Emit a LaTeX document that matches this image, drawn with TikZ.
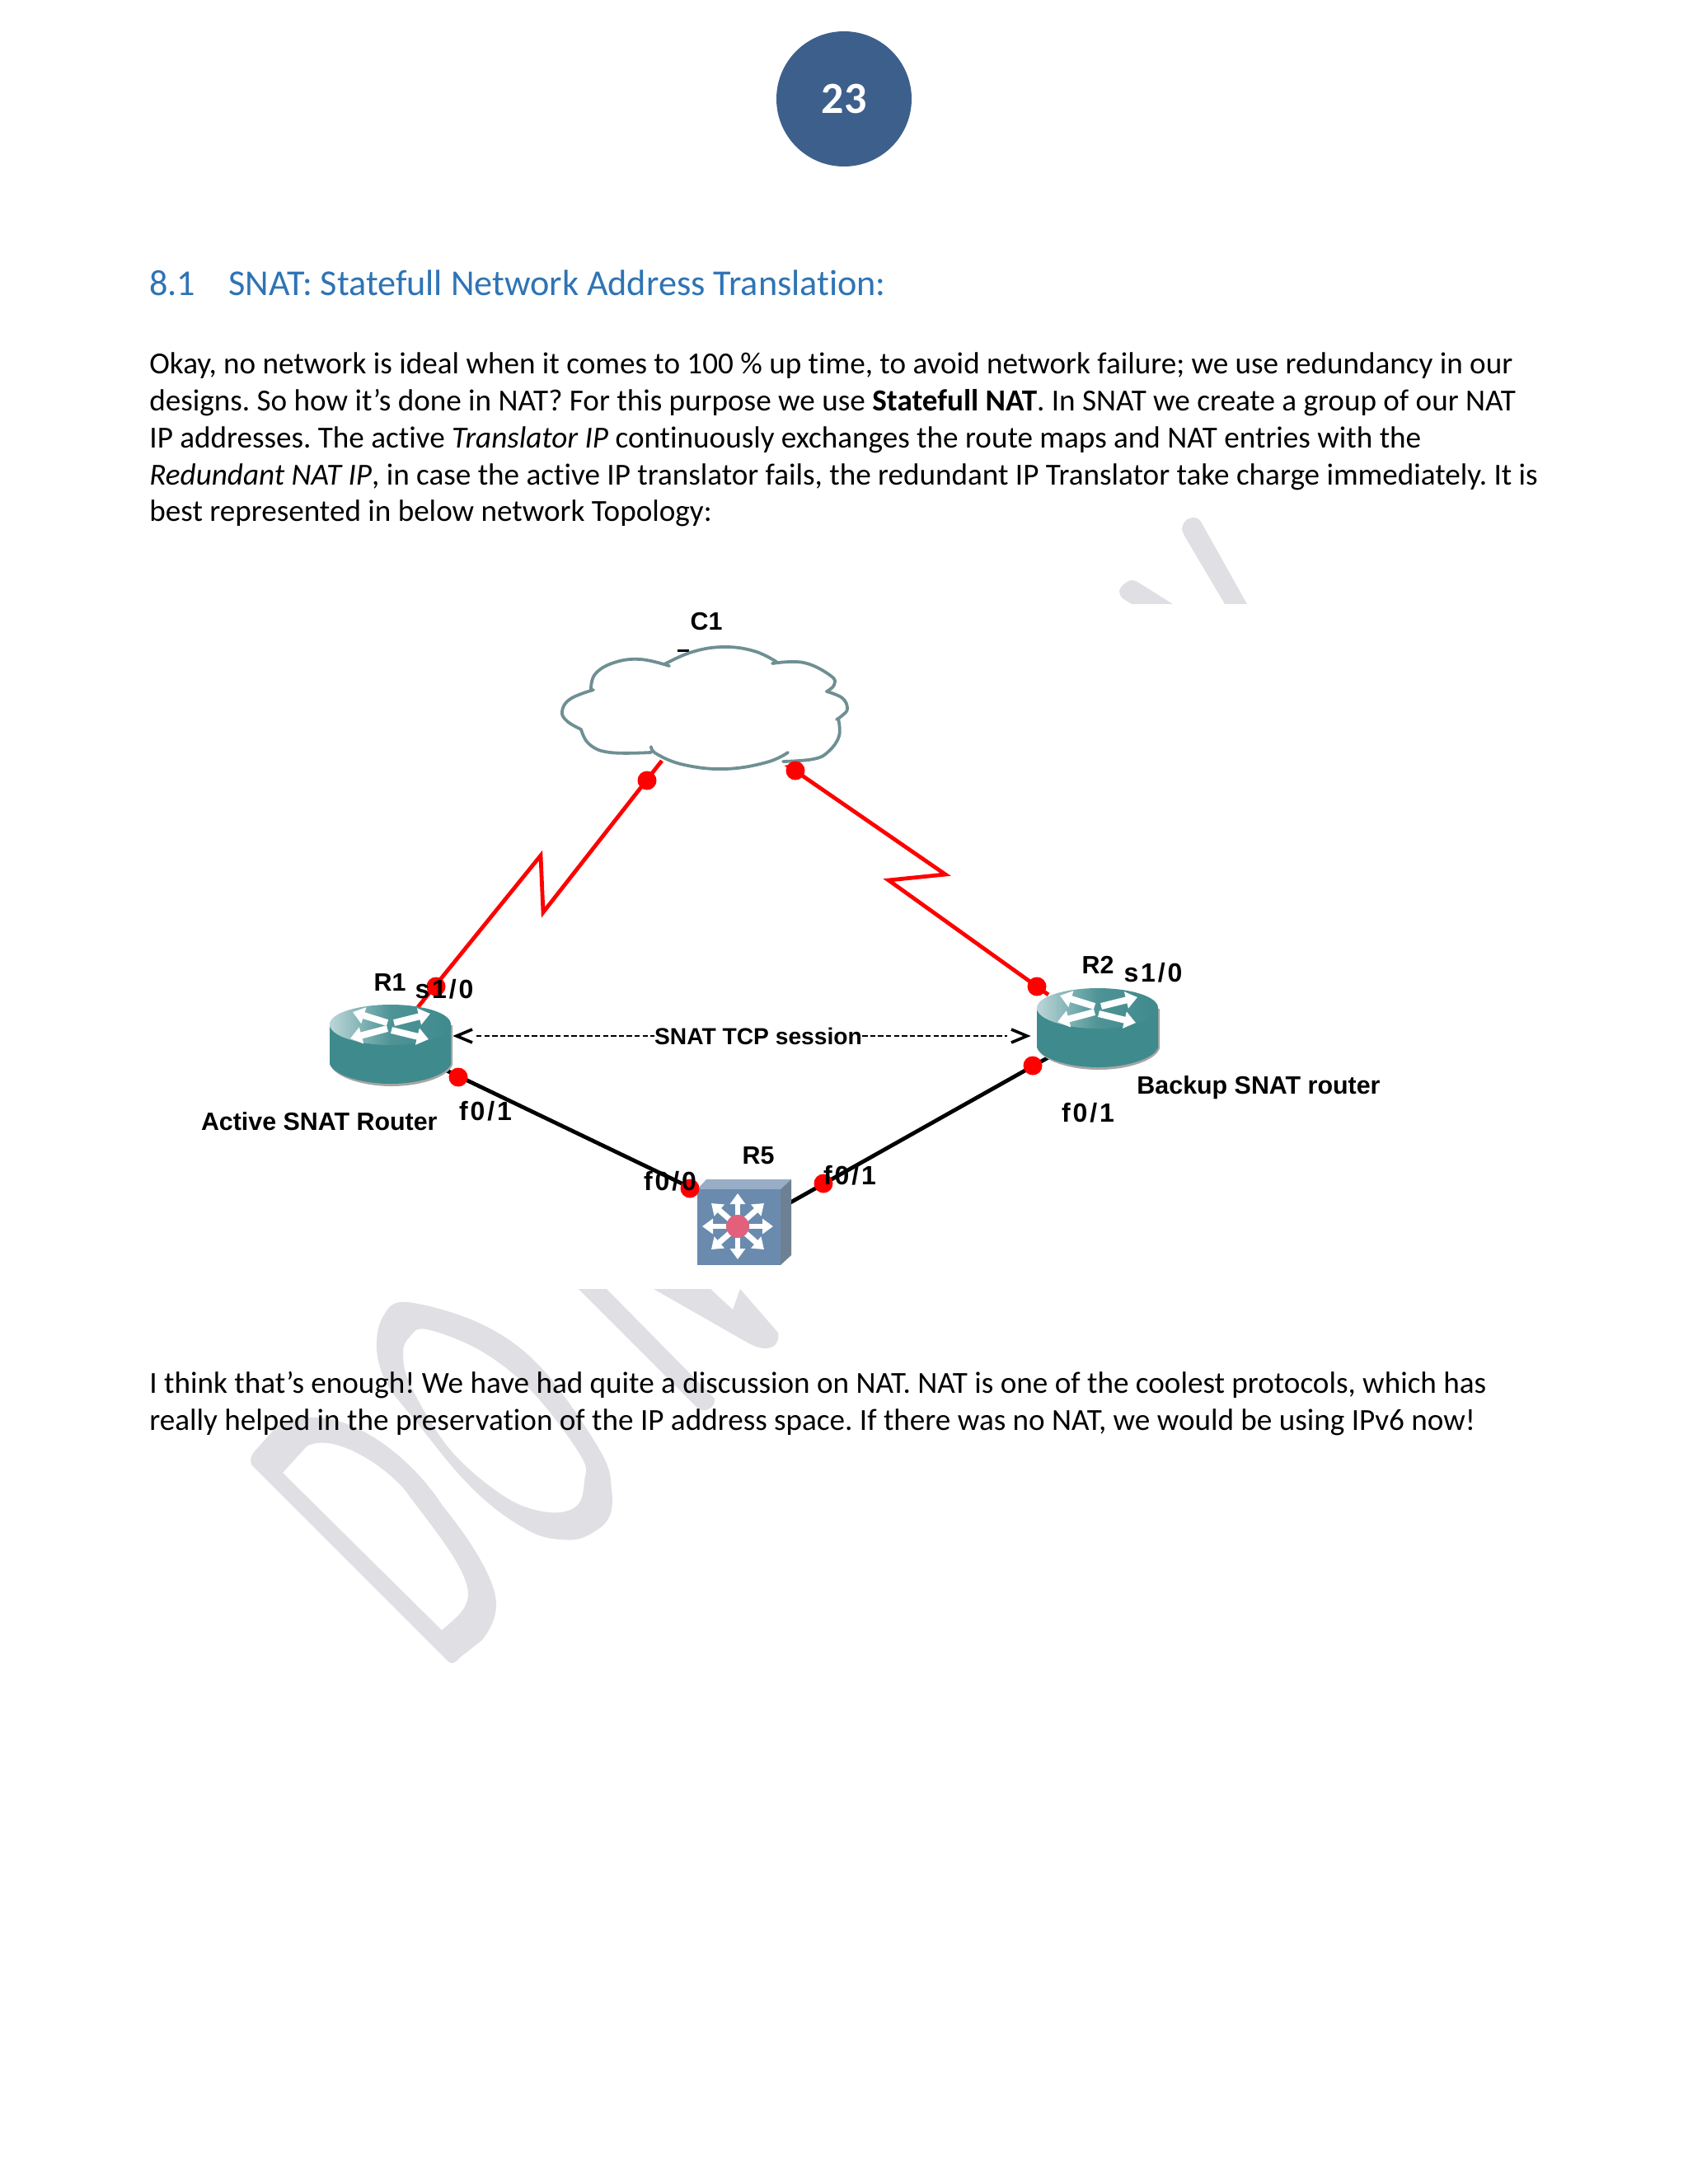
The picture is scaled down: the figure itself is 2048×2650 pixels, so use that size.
\documentclass[tikz,border=0pt]{standalone}
\usepackage{fontspec}
\setmainfont[Ligatures=CommonOff]{Carlito}
\newfontfamily\netfont{Liberation Sans}
\newfontfamily\portfont[LetterSpace=9]{Liberation Sans}
\usetikzlibrary{arrows.meta}
\frenchspacing
\definecolor{wm}{HTML}{E0DFE3}
\definecolor{badge}{HTML}{3D5F8C}
\definecolor{headblue}{HTML}{2E74B5}
\definecolor{teal}{HTML}{3F8A8D}
\definecolor{swfront}{HTML}{6A8BAE}
\definecolor{cloudline}{HTML}{6F8F93}
\definecolor{ball}{HTML}{E2607C}
\tikzset{
  x=0.5pt,y=-0.5pt,
  bodyline/.style={anchor=base west,inner sep=0pt,font=\fontsize{18.57}{22}\selectfont},
  headline/.style={anchor=base west,inner sep=0pt,font=\fontsize{22.1}{26}\selectfont,text=headblue},
  netlabel/.style={inner sep=0pt,font=\netfont\bfseries\fontsize{15.2}{17}\selectfont},
  portlabel/.style={inner sep=0pt,font=\portfont\bfseries\fontsize{16}{18}\selectfont},
  serial/.style={red,line width=2.4pt,line join=miter},
  fast/.style={black,line width=2.4pt},
  portdot/.style={circle,fill=red,inner sep=0pt,minimum size=11.5pt},
  session/.style={black,line width=1.1pt,dash pattern=on 3.2pt off 1.6pt},
  sessiontip/.style={black,line width=1.8pt},
  wmark/.style={fill=wm,draw=none},
  whitearrow/.style={white,line width=4pt,-{Triangle[length=7pt,width=10pt]}},
  cloudedge/.style={cloudline,line width=1.9pt,line cap=round},
  routerpic/.pic={
    \fill[black!35] (1,25) -- (1,73) .. controls (6,88) and (40,99) .. (75,99) .. controls (110,99) and (144,88) .. (149,73) -- (149,25) -- cycle;
    \fill[teal] (0,24) -- (0,72) .. controls (5,86) and (40,96) .. (74,96) .. controls (108,96) and (142,86) .. (147,72) -- (147,24) -- cycle;
    \shade[left color=teal!35!white,right color=teal,middle color=teal!92!white] (0,24) .. controls (0,10) and (35,0) .. (74,0) .. controls (113,0) and (147,10) .. (147,24) .. controls (147,38) and (113,49) .. (74,49) .. controls (35,49) and (0,38) .. (0,24) -- cycle;
    \draw[whitearrow] (70,22) -- (28,9);
    \draw[whitearrow] (78,22) -- (122,11);
    \draw[whitearrow] (70,29) -- (25,41);
    \draw[whitearrow] (75,31) -- (120,42);
  },
  switchpic/.pic={
    \fill[swfront!70!white] (0,12) -- (11,0) -- (114,0) -- (101,12) -- cycle;
    \fill[swfront!70!black!80!white] (101,12) -- (114,0) -- (114,92) -- (101,104) -- cycle;
    \fill[swfront] (0,12) rectangle (101,104);
    \foreach \ex/\ey in {49/17,49/97,6/57,92/57,17/29,81/29,17/85,81/85}
      \draw[white,line width=3.4pt,-{Triangle[length=6.5pt,width=9pt]}] (49,57) -- (\ex,\ey);
    \fill[ball] (49,57) circle[radius=7pt];
  }
}
\begin{document}
\begin{tikzpicture}
\useasboundingbox (0,0) rectangle (2048,2650);
\fill[white] (0,0) rectangle (2048,2650);
% watermark
\fill[wmark] (1434,643) .. controls (1434,635) and (1440,628) .. (1448,628) .. controls (1452,628) and (1455,630) .. (1457,633) -- (1513,733) -- (1486,733) -- (1437,650) -- cycle;
\fill[wmark] (1358,718) .. controls (1358,712) and (1368,704) .. (1373,704) .. controls (1376,704) and (1378,705) .. (1380,706) -- (1423,733) -- (1373,733) -- (1362,726) .. controls (1360,724) and (1358,721) .. (1358,718) -- cycle;
\fill[wmark,even odd rule] plot[smooth cycle,tension=0.6] coordinates {(494,1580) (585,1607) (657,1660) (728,1760) (742,1807) (738,1843) (709,1865) (681,1868) (647,1860) (600,1830) (556,1788) (505,1725) (470,1680) (457,1637) (465,1597)}
  plot[smooth cycle,tension=0.6] coordinates {(518,1613) (585,1640) (647,1690) (705,1767) (709,1797) (700,1827) (666,1835) (614,1817) (547,1760) (499,1683) (489,1643) (497,1622)};
\fill[wmark,even odd rule] (305,1777) .. controls (303,1770) and (305,1766) .. (308,1762) -- (334,1733) .. controls (342,1723) and (360,1719) .. (389,1720) .. controls (440,1725) and (500,1770) .. (537,1827) .. controls (580,1880) and (604,1925) .. (602,1950) .. controls (600,1970) and (592,1980) .. (585,1990) -- (557,2012) .. controls (551,2019) and (546,2020) .. (542,2014) -- cycle
  (343,1787) -- (372,1755) .. controls (380,1750) and (395,1749) .. (408,1753) .. controls (440,1762) and (470,1785) .. (489,1805) .. controls (530,1860) and (568,1905) .. (568,1935) .. controls (567,1950) and (560,1958) .. (536,1978) -- cycle;
\fill[wmark] (702,1564) -- (736,1564) -- (867,1697) .. controls (868,1707) and (858,1714) .. (848,1710) -- cycle;
\fill[wmark] (793,1564) -- (862,1564) -- (889,1589) -- (898,1564) -- (944,1617) .. controls (946,1628) and (940,1636) .. (929,1636) .. controls (920,1636) and (912,1632) .. (905,1628) -- cycle;
\fill[white] (181,733) rectangle (1867,1563);
% page badge
\node[circle,fill=badge,minimum size=82pt,inner sep=0pt,text=white,font=\bfseries\fontsize{27}{32}\selectfont] (badge) at (1024,120) {23};
% text
\node[headline] (h1) at (181,358) {8.1};
\node[headline] (h2) at (277,358) {SNAT: Statefull Network Address Translation:};
\node[bodyline] (p1) at (181,453) {Okay, no network is ideal when it comes to 100 \% up time, to avoid network failure; we use redundancy in our};
\node[bodyline] (p2) at (181,498) {designs. So how it’s done in NAT? For this purpose we use \textbf{Statefull NAT}. In SNAT we create a group of our NAT};
\node[bodyline] (p3) at (181,543) {IP addresses. The active \textit{Translator IP} continuously exchanges the route maps and NAT entries with the};
\node[bodyline] (p4) at (181,588) {\textit{Redundant NAT IP}, in case the active IP translator fails, the redundant IP Translator take charge immediately. It is};
\node[bodyline] (p5) at (181,632) {best represented in below network Topology:};
\node[bodyline] (q1) at (181,1690) {I think that’s enough! We have had quite a discussion on NAT. NAT is one of the coolest protocols, which has};
\node[bodyline] (q2) at (181,1735) {really helped in the preservation of the IP address space. If there was no NAT, we would be using IPv6 now!};
% coordinates
\coordinate (c1a) at (803,923);
\coordinate (c1b) at (950,925);
\coordinate (z1) at (656,1038);
\coordinate (z2) at (659,1107);
\coordinate (z3) at (1147,1061);
\coordinate (z4) at (1078,1068);
\coordinate (r1s) at (507,1222);
\coordinate (r2s) at (1272,1207);
\coordinate (r1f) at (542,1299);
\coordinate (r2f) at (1272,1283);
\coordinate (r5a) at (846,1445);
\coordinate (r5b) at (959,1459);
% stub behind the cloud
\fill[black] (822,788) rectangle (836,791);
% links
\draw[serial] (r1s) -- (z1) -- (z2) -- (c1a);
\draw[serial] (c1b) -- (z3) -- (z4) -- (r2s);
\draw[fast] (r1f) -- (r5a);
\draw[fast] (r5b) -- (r2f);
% cloud
\node[inner sep=0pt,minimum size=0pt] (C1cloud) at (855,860) {};
\fill[white] plot[smooth cycle,tension=0.6] coordinates {(682,863) (718,820) (777,800) (806,806) (878,785) (942,803) (1012,827) (1028,860) (1018,893) (987,922) (880,933) (790,913) (707,897)};
\draw[cloudedge] plot[smooth,tension=0.7] coordinates {(806,806) (840,791) (878,785) (915,790) (942,803)};
\draw[cloudedge] plot[smooth,tension=0.7] coordinates {(937,805) (975,804) (1008,820) (1012,831) (1003,839)};
\draw[cloudedge] plot[smooth,tension=0.7] coordinates {(1003,839) (1022,847) (1028,860) (1022,868) (1015,873)};
\draw[cloudedge] plot[smooth,tension=0.7] coordinates {(1017,872) (1018,893) (1005,912) (987,921) (950,924)};
\draw[cloudedge] plot[smooth,tension=0.7] coordinates {(956,913) (930,925) (880,933) (830,928) (797,915) (790,906)};
\draw[cloudedge] plot[smooth,tension=0.7] coordinates {(790,913) (740,913) (715,903) (705,885)};
\draw[cloudedge] plot[smooth,tension=0.7] coordinates {(705,885) (688,875) (682,863) (692,848) (720,837)};
\draw[cloudedge] plot[smooth,tension=0.7] coordinates {(717,837) (722,818) (745,804) (777,800) (812,808)};
% devices
\pic at (400,1219) {routerpic};
\pic at (1258,1199) {routerpic};
\pic at (846,1431) {switchpic};
\node[inner sep=0pt,minimum width=73.5pt,minimum height=49pt] (R1) at (473.5,1268) {};
\node[inner sep=0pt,minimum width=73.5pt,minimum height=49pt] (R2) at (1331.5,1248) {};
\node[inner sep=0pt,minimum width=57pt,minimum height=52pt] (R5) at (903,1483) {};
% dots
\node[portdot] (d1) at (529,1197) {};
\node[portdot] (d2) at (785,947) {};
\node[portdot] (d3) at (965,935) {};
\node[portdot] (d4) at (1258,1197) {};
\node[portdot] (d5) at (556,1307) {};
\node[portdot] (d6) at (837,1442) {};
\node[portdot] (d7) at (999,1436) {};
\node[portdot] (d8) at (1253,1293) {};
% session
\node[netlabel,font=\netfont\bfseries\fontsize{14.1}{17}\selectfont] (sess) at (920,1257) {SNAT TCP session};
\coordinate (sl) at (554,1257);
\coordinate (sr) at (1246,1257);
\coordinate (sl2) at (578,1257);
\coordinate (sr2) at (1222,1257);
\draw[session] (sl2) -- (sess.west);
\draw[session] (sess.east) -- (sr2);
\draw[sessiontip] (573,1249) -- (sl) -- (573,1265);
\draw[sessiontip] (1227,1249) -- (sr) -- (1227,1265);
% labels
\node[netlabel] (lc1) at (857,754) {C1};
\node[netlabel] (l1) at (473,1192) {R1};
\node[portlabel] (l2) at (539,1200) {s1/0};
\node[portlabel] (l3) at (589,1348) {f0/1};
\node[netlabel,anchor=east] (l4) at (531,1361) {Active SNAT Router};
\node[portlabel] (l5) at (813,1433) {f0/0};
\node[netlabel] (l6) at (920,1402) {R5};
\node[portlabel] (l7) at (1031,1426) {f0/1};
\node[netlabel] (l8) at (1332,1171) {R2};
\node[portlabel] (l9) at (1399,1180) {s1/0};
\node[netlabel] (l10) at (1527,1320) {Backup SNAT router};
\node[portlabel] (l11) at (1320,1350) {f0/1};
\end{tikzpicture}
\end{document}
